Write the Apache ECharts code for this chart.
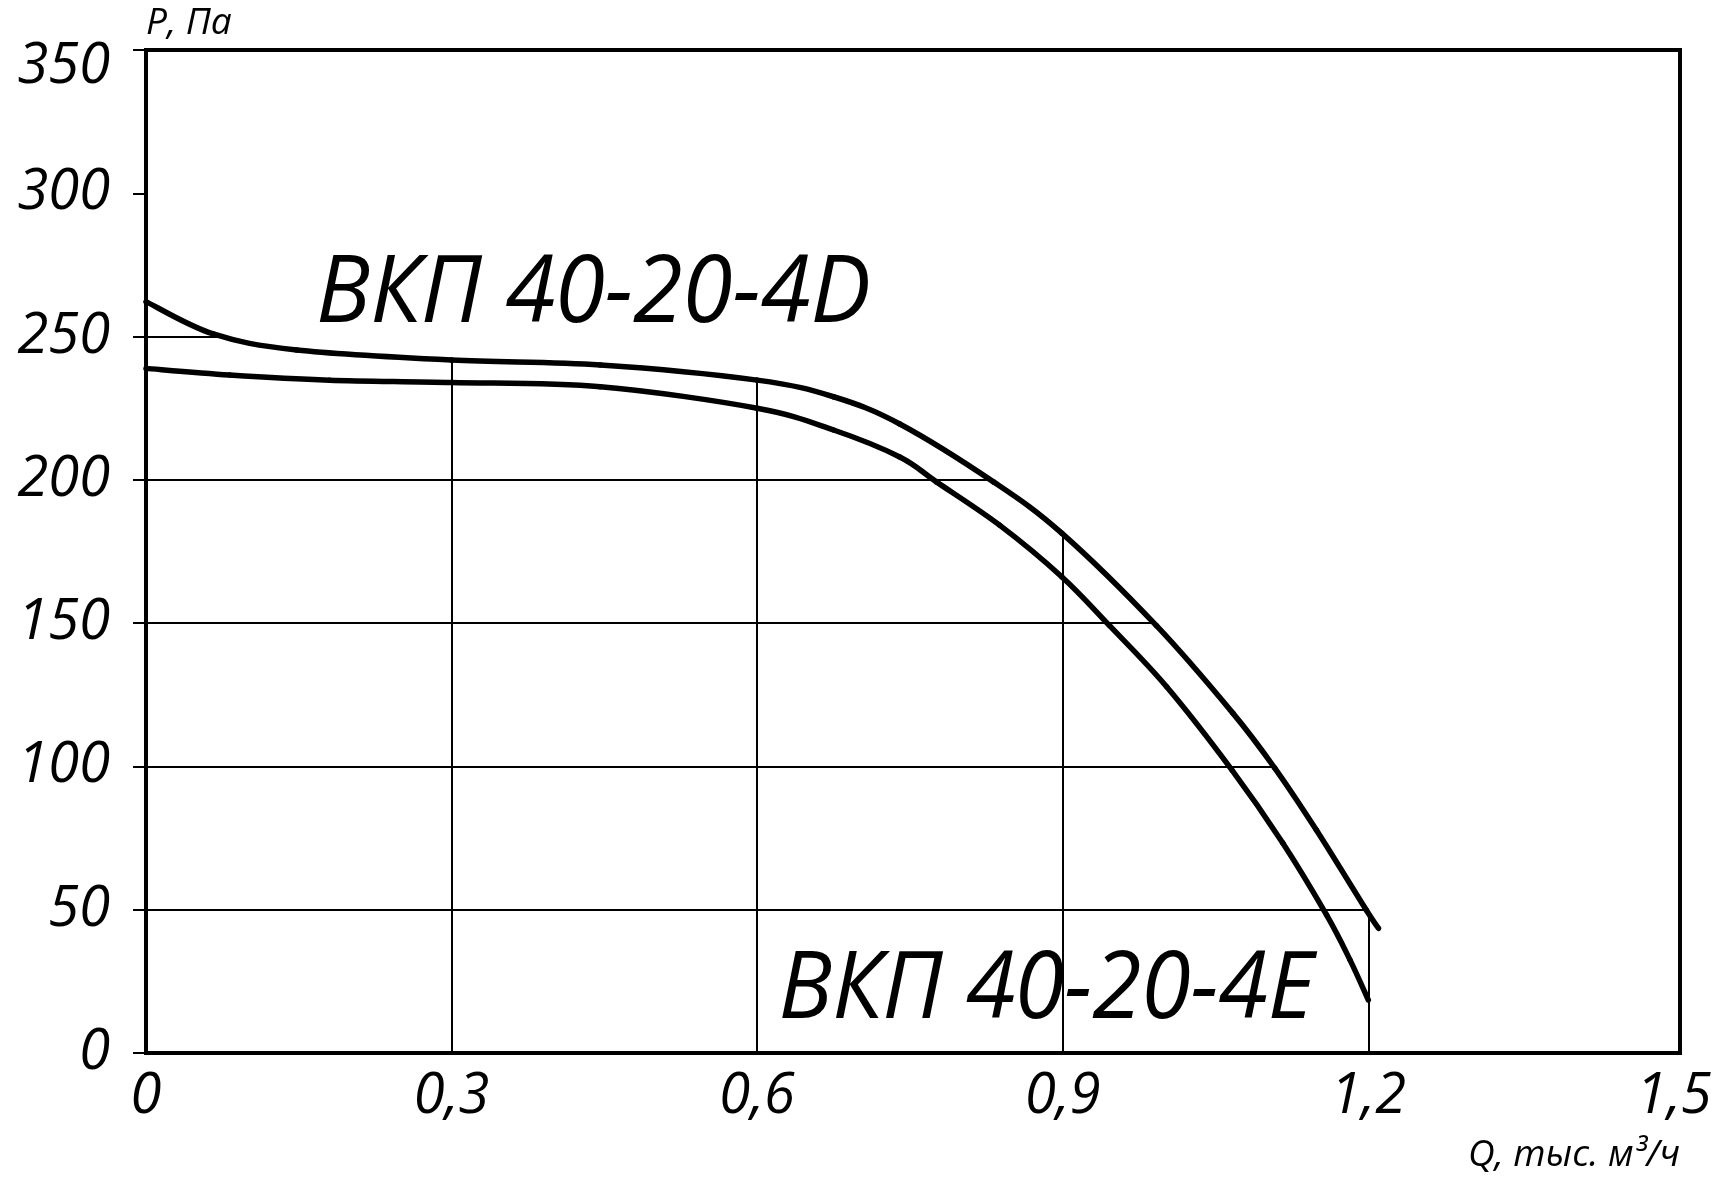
<!DOCTYPE html>
<html><head><meta charset="utf-8">
<script src="https://cdn.jsdelivr.net/npm/echarts@6/dist/echarts.min.js"></script>
<style>html,body{margin:0;padding:0;background:#fff}#c{width:1722px;height:1184px}</style>
</head><body><div id="c"></div>
<script>
// ---- data ----
const qD = [0, 0.066, 0.148, 0.3, 0.446, 0.6, 0.675, 0.74, 0.832, 0.899, 0.992, 1.067, 1.108, 1.149, 1.198, 1.21];
const pD = [262.2, 250.9, 245.3, 241.8, 240.1, 234.8, 229, 219.5, 199.3, 181.4, 149.1, 118.6, 99.5, 77.8, 49.9, 43.5];
const qE = [0, 0.082, 0.18, 0.3, 0.446, 0.6, 0.675, 0.74, 0.776, 0.838, 0.899, 0.946, 1.002, 1.066, 1.116, 1.159, 1.182, 1.2];
const pE = [238.9, 236.6, 234.8, 234, 232.5, 225, 217.4, 208, 199.3, 184.2, 166.2, 149.1, 127.8, 98.8, 73.3, 48.2, 32.5, 18.5];
const xGridTicks = [0.3, 0.6, 0.9, 1.2];
const yGridTicks = [50, 100, 150, 200, 250];
const labelD = 'ВКП 40-20-4D';
const labelE = 'ВКП 40-20-4E';
const anchorD = [0.167, 264.4];
const anchorE = [0.621, 21.5];
const xName = 'Q, тыс. м³/ч';
const yName = 'P, Па';

const FONT = "'Open Sans', 'DejaVu Sans', sans-serif";
const zip = (a, b) => a.map((v, i) => [v, b[i]]);

function pAt(q) { // linear interpolation on 4D curve
  for (let i = 0; i < qD.length - 1; i++) {
    if (q >= qD[i] && q <= qD[i + 1]) {
      const t = (q - qD[i]) / (qD[i + 1] - qD[i]);
      return pD[i] + t * (pD[i + 1] - pD[i]);
    }
  }
  return pD[pD.length - 1];
}
function qAt(p) { // where 4D curve crosses level p
  for (let i = 0; i < pD.length - 1; i++) {
    if ((p <= pD[i] && p >= pD[i + 1])) {
      const t = (p - pD[i]) / (pD[i + 1] - pD[i]);
      return qD[i] + t * (qD[i + 1] - qD[i]);
    }
  }
  return qD[qD.length - 1];
}
const gridSegs = [];
xGridTicks.forEach(q => gridSegs.push({ coords: [[q, 0], [q, pAt(q)]] }));
yGridTicks.forEach(p => gridSegs.push({ coords: [[0, p], [qAt(p), p]] }));

const fmtX = v => {
  const k = v / 0.3;
  if (Math.abs(k - Math.round(k)) > 1e-6) return '';
  return v === 0 ? '0' : v.toFixed(1).replace('.', ',');
};

// Catmull-Rom spline through the data points, one bezier segment per data item
function splineSeries(qs, ps, name) {
  const n = qs.length;
  return {
    type: 'custom', name, data: zip(qs, ps), silent: true, z: 3, clip: false,
    encode: { x: 0, y: 1 },
    renderItem: (params, api) => {
      const i = params.dataIndex;
      if (i >= n - 1) return null;
      const P = k => { const j = Math.max(0, Math.min(n - 1, k)); return api.coord([qs[j], ps[j]]); };
      const p0 = P(i - 1), p1 = P(i), p2 = P(i + 1), p3 = P(i + 2);
      const t = 1 / 6;
      return {
        type: 'bezierCurve',
        shape: {
          x1: p1[0], y1: p1[1], x2: p2[0], y2: p2[1],
          cpx1: p1[0] + (p2[0] - p0[0]) * t, cpy1: p1[1] + (p2[1] - p0[1]) * t,
          cpx2: p2[0] - (p3[0] - p1[0]) * t, cpy2: p2[1] - (p3[1] - p1[1]) * t
        },
        style: { stroke: '#000', fill: 'none', lineWidth: 5.5, lineCap: 'round', lineJoin: 'round' }
      };
    }
  };
}

const chart = echarts.init(document.getElementById('c'), null, { renderer: 'canvas' });
chart.setOption({
  animation: false,
  backgroundColor: '#fff',
  grid: { left: 146, top: 50, right: 42, bottom: 131, show: true, borderColor: '#000', borderWidth: 4, containLabel: false, outerBoundsMode: 'none' },
  xAxis: {
    type: 'value', min: 0, max: 1.506, interval: 0.3,
    axisLine: { show: true, onZero: false, lineStyle: { color: '#000', width: 4 } },
    axisTick: { show: false },
    splitLine: { show: false },
    axisLabel: { show: true, formatter: fmtX, margin: 16, color: '#000', fontSize: 56, fontStyle: 'italic', fontFamily: FONT, showMaxLabel: true },
    name: xName, nameLocation: 'end', nameGap: 0,
    nameTextStyle: { align: 'right', verticalAlign: 'top', padding: [84, 0, 0, 0], fontSize: 37, fontStyle: 'italic', fontFamily: FONT, color: '#000' }
  },
  yAxis: {
    type: 'value', min: 0, max: 350, interval: 50,
    axisLine: { show: true, onZero: false, lineStyle: { color: '#000', width: 4 } },
    axisTick: { show: true, inside: false, length: 13, lineStyle: { color: '#000', width: 2 } },
    splitLine: { show: false },
    axisLabel: {
      show: true, margin: 36, color: '#000', fontSize: 56, fontStyle: 'italic', fontFamily: FONT,
      formatter: v => v === 350 ? '{t|350}' : String(v),
      rich: { t: { padding: [34, 0, 0, 0], color: '#000', fontSize: 56, fontStyle: 'italic', fontFamily: FONT } }
    },
    name: yName, nameLocation: 'end', nameGap: 8,
    nameTextStyle: { align: 'left', verticalAlign: 'bottom', fontSize: 37, fontStyle: 'italic', fontFamily: FONT, color: '#000' }
  },
  series: [
    { type: 'lines', coordinateSystem: 'cartesian2d', silent: true, z: 1, polyline: false,
      lineStyle: { color: '#000', width: 2, opacity: 1, curveness: 0 }, data: gridSegs },
    splineSeries(qD, pD, labelD),
    splineSeries(qE, pE, labelE)
  ]
});

function place() {
  const a = chart.convertToPixel({ gridIndex: 0 }, anchorD);
  const b = chart.convertToPixel({ gridIndex: 0 }, anchorE);
  const mk = (pt, txt, sx) => ({
    type: 'text', x: pt[0], y: pt[1], scaleX: sx, scaleY: 1, z: 10, silent: true,
    style: { text: txt, x: 0, y: 0, align: 'left', verticalAlign: 'middle', fill: '#000',
      font: 'italic 94px ' + FONT }
  });
  chart.setOption({ graphic: [mk(a, labelD, 0.96), mk(b, labelE, 0.95)] });
}
place();
</script>
</body></html>
